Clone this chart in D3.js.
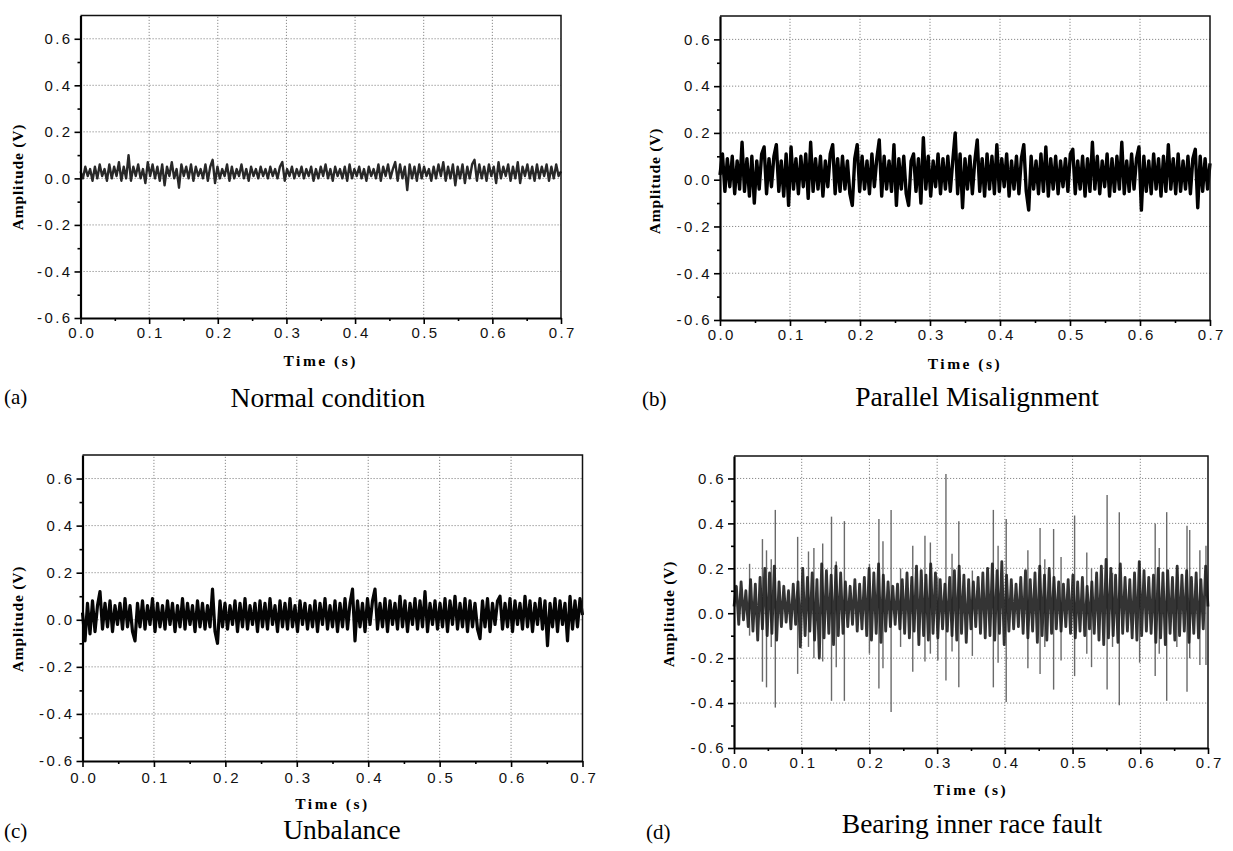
<!DOCTYPE html>
<html>
<head>
<meta charset="utf-8">
<script src="https://cdn.jsdelivr.net/npm/d3@7"></script>
<style>
  body { margin: 0; background: #fff; }
  svg { display: block; }
</style>
</head>
<body>
<svg id="chart" width="1233" height="851"></svg>
<script>
const DT = 0.0035;

const xTicks = [0, 0.1, 0.2, 0.3, 0.4, 0.5, 0.6, 0.7];
const xMinor = [0.05, 0.15, 0.25, 0.35, 0.45, 0.55, 0.65];
const yTicks = [-0.6, -0.4, -0.2, 0, 0.2, 0.4, 0.6];
const yMinor = [-0.5, -0.3, -0.1, 0.1, 0.3, 0.5];

const letters = ["(a)", "(b)", "(c)", "(d)"];
const titles = ["Normal condition", "Parallel Misalignment", "Unbalance", "Bearing inner race fault"];

// amplitudes (V), one every DT seconds
const normal = [
  0.03, 0.00, 0.05, 0.01, 0.04, -0.01, 0.05, 0.00, 0.06, 0.01,
  0.04, -0.01, 0.06, 0.00, 0.05, 0.01, 0.07, -0.01, 0.05, 0.00,
  0.10, -0.01, 0.05, 0.01, 0.06, 0.00, 0.04, -0.02, 0.07, 0.01,
  0.06, 0.00, 0.05, -0.01, 0.06, -0.03, 0.05, 0.01, 0.07, 0.00,
  0.04, -0.04, 0.06, 0.01, 0.05, 0.00, 0.06, -0.01, 0.05, 0.01,
  0.04, 0.00, 0.06, -0.01, 0.05, 0.08, -0.02, 0.05, 0.00, 0.04,
  0.01, 0.06, -0.01, 0.05, 0.00, 0.04, 0.01, 0.06, 0.00, 0.04,
  -0.01, 0.05, 0.01, 0.04, 0.00, 0.05, 0.01, 0.04, 0.00, 0.05,
  0.01, 0.04, 0.00, 0.05, 0.07, -0.01, 0.04, 0.01, 0.05, 0.00,
  0.04, 0.01, 0.05, 0.00, 0.04, 0.01, 0.05, -0.01, 0.04, 0.00,
  0.05, 0.01, 0.06, 0.00, 0.04, -0.01, 0.05, 0.01, 0.04, 0.00,
  0.05, -0.01, 0.06, 0.00, 0.04, 0.01, 0.05, 0.00, 0.04, -0.01,
  0.05, 0.01, 0.04, 0.00, 0.06, -0.01, 0.05, 0.01, 0.06, 0.00,
  0.04, 0.07, -0.01, 0.06, 0.00, 0.05, -0.05, 0.06, 0.00, 0.05,
  -0.01, 0.06, 0.00, 0.05, 0.01, 0.04, -0.01, 0.05, 0.00, 0.06,
  0.01, 0.07, -0.01, 0.05, 0.00, 0.06, -0.03, 0.05, 0.00, 0.06,
  -0.02, 0.05, 0.00, 0.06, 0.08, -0.01, 0.06, 0.00, 0.05, -0.01,
  0.06, 0.01, 0.05, -0.02, 0.07, 0.00, 0.05, 0.01, 0.06, -0.01,
  0.05, 0.00, 0.07, -0.02, 0.05, 0.01, 0.06, 0.00, 0.05, -0.01,
  0.06, 0.00, 0.05, 0.01, 0.06, -0.01, 0.05, 0.00, 0.06, 0.01, 0.03
];

const misalignment = [
  0.02, 0.11, -0.05, 0.09, -0.03, 0.10, -0.06, 0.08, -0.04, 0.16,
  -0.05, 0.09, -0.07, 0.10, -0.10, 0.08, -0.04, 0.11, 0.14, -0.06,
  0.09, -0.03, 0.10, 0.15, -0.05, 0.08, -0.07, 0.11, -0.11, 0.14,
  -0.04, 0.09, -0.06, 0.10, -0.03, 0.11, -0.08, 0.16, -0.05, 0.09,
  -0.04, 0.10, -0.07, 0.08, -0.03, 0.11, 0.15, -0.06, 0.09, -0.05,
  0.10, -0.04, 0.08, -0.06, -0.11, 0.09, 0.15, -0.05, 0.10, -0.04,
  0.08, -0.06, 0.11, -0.03, 0.09, 0.17, -0.07, 0.10, -0.04, 0.08,
  -0.05, 0.15, -0.11, 0.09, -0.04, 0.10, -0.06, -0.11, 0.08, 0.11,
  -0.05, 0.09, -0.10, 0.18, -0.04, 0.10, -0.07, 0.08, -0.03, 0.11,
  -0.06, 0.09, -0.04, 0.10, -0.05, 0.08, 0.20, -0.06, 0.11, -0.12,
  0.09, -0.04, 0.10, -0.06, 0.08, 0.17, -0.05, 0.09, -0.07, 0.11,
  -0.04, 0.10, -0.06, 0.15, -0.05, 0.09, -0.03, 0.11, -0.07, 0.08,
  -0.04, 0.10, -0.06, 0.09, 0.15, -0.05, -0.13, 0.10, -0.04, 0.08,
  -0.06, 0.11, -0.05, 0.14, -0.07, 0.09, -0.04, 0.10, -0.06, 0.08,
  -0.03, 0.09, -0.05, 0.11, 0.13, -0.06, 0.08, -0.04, 0.10, -0.07,
  0.09, -0.05, 0.16, -0.04, 0.10, -0.06, 0.08, -0.03, 0.11, -0.07,
  0.09, -0.05, 0.10, -0.04, 0.16, -0.06, 0.08, -0.05, 0.11, -0.04,
  0.09, 0.14, -0.13, 0.10, -0.05, 0.08, -0.06, 0.11, -0.04, 0.09,
  -0.07, 0.10, -0.05, 0.15, -0.04, 0.09, -0.06, 0.11, -0.05, 0.08,
  -0.04, 0.10, -0.06, 0.09, 0.13, -0.12, 0.10, -0.05, 0.09, -0.04, 0.07
];

const unbalance = [
  0.03, -0.09, 0.07, -0.06, 0.08, -0.05, 0.06, 0.12, -0.04, 0.07,
  -0.03, 0.08, -0.05, 0.06, -0.02, 0.07, -0.04, 0.09, -0.03, 0.06,
  -0.05, -0.09, 0.07, -0.03, 0.08, -0.04, 0.06, -0.02, 0.09, -0.05,
  0.07, -0.03, 0.06, -0.04, 0.08, -0.02, 0.07, -0.05, 0.06, -0.03,
  0.09, -0.04, 0.07, -0.02, 0.06, -0.05, 0.08, -0.03, 0.07, -0.04,
  0.06, -0.03, 0.13, -0.05, -0.10, 0.08, -0.03, 0.07, -0.04, 0.06,
  -0.02, 0.08, -0.05, 0.07, -0.03, 0.09, -0.04, 0.06, -0.02, 0.07,
  -0.05, 0.08, -0.03, 0.07, -0.04, 0.09, -0.02, 0.06, -0.05, 0.08,
  -0.03, 0.07, -0.04, 0.09, -0.03, 0.06, -0.05, 0.08, -0.02, 0.07,
  -0.04, 0.06, -0.03, 0.08, -0.05, 0.07, -0.02, 0.09, -0.04, 0.06,
  -0.03, 0.08, -0.05, 0.07, -0.03, 0.09, -0.04, 0.07, 0.13, -0.09,
  0.08, -0.03, 0.07, -0.05, 0.09, -0.02, 0.08, 0.13, -0.04, 0.07,
  -0.03, 0.09, -0.05, 0.08, -0.02, 0.07, -0.04, 0.10, -0.03, 0.08,
  -0.05, 0.07, -0.02, 0.09, -0.04, 0.08, -0.03, 0.12, -0.05, 0.07,
  -0.02, 0.08, -0.04, 0.07, -0.03, 0.09, -0.05, 0.08, -0.02, 0.10,
  -0.04, 0.07, -0.03, 0.09, -0.05, 0.08, -0.03, 0.07, -0.04, -0.08,
  0.08, -0.03, 0.09, -0.05, 0.07, -0.02, 0.08, 0.10, -0.04, 0.07,
  -0.03, 0.09, -0.05, 0.08, -0.02, 0.07, -0.04, 0.10, -0.03, 0.08,
  -0.05, 0.07, -0.02, 0.09, -0.04, 0.08, -0.11, 0.07, -0.03, 0.09,
  -0.05, 0.08, -0.02, 0.07, -0.09, 0.10, -0.04, 0.08, -0.03, 0.09, 0.02
];

const bearing = [
  0.03, 0.12, -0.05, 0.14, -0.03, 0.10, -0.06, 0.15, -0.08, 0.13,
  -0.12, 0.16, -0.07, 0.20, -0.10, 0.18, -0.09, 0.21, -0.12, 0.14,
  -0.06, 0.12, -0.04, 0.10, -0.07, 0.13, -0.05, 0.14, -0.15, 0.20,
  -0.10, 0.16, -0.08, 0.18, -0.12, 0.15, -0.20, 0.22, -0.11, 0.19,
  -0.09, 0.17, -0.14, 0.21, -0.10, 0.18, -0.09, 0.14, -0.06, 0.12,
  -0.05, 0.15, -0.08, 0.13, -0.07, 0.16, -0.10, 0.20, -0.12, 0.18,
  -0.09, 0.22, -0.13, 0.17, -0.08, 0.14, -0.06, 0.12, -0.05, 0.13,
  -0.07, 0.15, -0.09, 0.18, -0.11, 0.16, -0.08, 0.21, -0.14, 0.19,
  -0.10, 0.17, -0.12, 0.22, -0.09, 0.18, -0.11, 0.15, -0.07, 0.13,
  -0.08, 0.16, -0.10, 0.19, -0.12, 0.21, -0.09, 0.17, -0.13, 0.15,
  -0.07, 0.14, -0.06, 0.16, -0.09, 0.18, -0.11, 0.20, -0.10, 0.22,
  -0.12, 0.19, -0.09, 0.23, -0.14, 0.17, -0.08, 0.15, -0.07, 0.13,
  -0.06, 0.16, -0.09, 0.19, -0.11, 0.15, -0.08, 0.18, -0.13, 0.21,
  -0.10, 0.17, -0.12, 0.20, -0.09, 0.16, -0.07, 0.14, -0.08, 0.13,
  -0.06, 0.15, -0.09, 0.17, -0.11, 0.14, -0.08, 0.16, -0.10, 0.12,
  -0.07, 0.14, -0.09, 0.18, -0.12, 0.21, -0.14, 0.24, -0.11, 0.20,
  -0.10, 0.17, -0.13, 0.22, -0.09, 0.16, -0.08, 0.15, -0.11, 0.18,
  -0.12, 0.23, -0.10, 0.19, -0.08, 0.16, -0.09, 0.17, -0.13, 0.20,
  -0.11, 0.18, -0.14, 0.19, -0.09, 0.16, -0.12, 0.21, -0.10, 0.17,
  -0.08, 0.19, -0.13, 0.16, -0.09, 0.18, -0.11, 0.15, -0.07, 0.21, 0.03
];

// impulses of the inner race fault: [time, peak, trough]
const bearingSpikes = [
  [0.023, 0.22, -0.10], [0.042, 0.33, -0.305], [0.048, 0.28, -0.33], [0.055, 0.24, -0.15],
  [0.061, 0.46, -0.42], [0.094, 0.34, -0.27], [0.110, 0.275, -0.15], [0.118, 0.29, -0.20],
  [0.131, 0.31, -0.215], [0.144, 0.43, -0.39], [0.151, 0.23, -0.24], [0.163, 0.41, -0.39],
  [0.200, 0.22, -0.18], [0.214, 0.42, -0.335], [0.220, 0.32, -0.245], [0.232, 0.46, -0.44],
  [0.246, 0.20, -0.15], [0.264, 0.30, -0.26], [0.282, 0.345, -0.215], [0.290, 0.315, -0.18],
  [0.301, 0.16, -0.21], [0.313, 0.62, -0.30], [0.322, 0.265, -0.17], [0.332, 0.41, -0.33],
  [0.352, 0.19, -0.19], [0.383, 0.46, -0.33], [0.390, 0.30, -0.22], [0.402, 0.42, -0.395],
  [0.434, 0.28, -0.245], [0.452, 0.38, -0.27], [0.459, 0.24, -0.15], [0.472, 0.375, -0.34],
  [0.483, 0.25, -0.21], [0.503, 0.435, -0.28], [0.521, 0.27, -0.18], [0.528, 0.20, -0.24],
  [0.551, 0.526, -0.34], [0.559, 0.18, -0.15], [0.569, 0.45, -0.41], [0.599, 0.23, -0.22],
  [0.622, 0.40, -0.28], [0.628, 0.29, -0.18], [0.639, 0.45, -0.39], [0.654, 0.20, -0.15],
  [0.669, 0.39, -0.35], [0.673, 0.37, -0.20], [0.688, 0.28, -0.23], [0.697, 0.30, -0.23]
];

const panels = [
  { values: normal, x0: 80.5, x1: 561, yb: 318, yt: 15.5, stroke: "#1c1c1c", sw: 2.4, op: 0.95,
    ampX: 18, ampY: 177, timeY: 366, tickY: 338, letterX: 4, letterY: 404, titleX: 328, titleY: 407 },
  { values: misalignment, x0: 720, x1: 1210, yb: 320, yt: 16, stroke: "#000", sw: 3.4, op: 1,
    ampX: 655, ampY: 181, timeY: 369, tickY: 340, letterX: 642, letterY: 406, titleX: 977, titleY: 406 },
  { values: unbalance, x0: 82.5, x1: 582.5, yb: 761, yt: 455, stroke: "#050505", sw: 3.2, op: 1,
    ampX: 18, ampY: 619, timeY: 809, tickY: 783, letterX: 4, letterY: 838, titleX: 342, titleY: 839 },
  { values: bearing, spikes: bearingSpikes, x0: 734, x1: 1208, yb: 748, yt: 456, stroke: "#1e1e1e", sw: 2.8, op: 0.9,
    ampX: 669, ampY: 614, timeY: 795, tickY: 768, letterX: 646, letterY: 839, titleX: 972, titleY: 833 }
];

const svg = d3.select("#chart");
const fmt = d => d.toFixed(1);

panels.forEach((p, k) => {
  const x = d3.scaleLinear().domain([0, 0.7]).range([p.x0, p.x1]);
  const y = d3.scaleLinear().domain([-0.6, 0.7]).range([p.yb, p.yt]);
  const g = svg.append("g");

  // dotted grid
  g.append("g").selectAll("line").data(xTicks.slice(1, -1)).join("line")
    .attr("x1", d => x(d)).attr("x2", d => x(d))
    .attr("y1", y(-0.6)).attr("y2", y(0.7))
    .attr("stroke", "#8a8a8a").attr("stroke-width", 1).attr("stroke-dasharray", "1.2,1.8");
  g.append("g").selectAll("line").data(yTicks.slice(1)).join("line")
    .attr("x1", x(0)).attr("x2", x(0.7))
    .attr("y1", d => y(d)).attr("y2", d => y(d))
    .attr("stroke", "#8a8a8a").attr("stroke-width", 1).attr("stroke-dasharray", "1.2,1.8");

  // fault impulses
  if (p.spikes) {
    g.append("g").selectAll("line").data(p.spikes).join("line")
      .attr("x1", d => x(d[0])).attr("x2", d => x(d[0]))
      .attr("y1", d => y(d[1])).attr("y2", d => y(d[2]))
      .attr("stroke", "#6a6a6a").attr("stroke-width", 1.4);
  }

  // signal trace
  const line = d3.line().x((d, i) => x(i * DT)).y(d => y(d));
  g.append("path").datum(p.values)
    .attr("d", line)
    .attr("fill", "none")
    .attr("stroke", p.stroke)
    .attr("stroke-opacity", p.op)
    .attr("stroke-width", p.sw)
    .attr("stroke-linejoin", "round");

  // frame: thin top and right
  g.append("path")
    .attr("d", `M${x(0)},${y(0.7)}H${x(0.7)}V${y(-0.6)}`)
    .attr("fill", "none").attr("stroke", "#111").attr("stroke-width", 1.5);

  // axes
  const xAxis = g.append("g").attr("transform", `translate(0,${y(-0.6)})`)
    .call(d3.axisBottom(x).tickValues(xTicks).tickSize(6).tickSizeOuter(0).tickFormat(fmt));
  g.append("g").attr("transform", `translate(0,${y(-0.6)})`)
    .call(d3.axisBottom(x).tickValues(xMinor).tickSize(3).tickFormat(""))
    .call(a => a.select(".domain").remove());
  const yAxis = g.append("g").attr("transform", `translate(${x(0)},0)`)
    .call(d3.axisLeft(y).tickValues(yTicks).tickSize(6).tickSizeOuter(0).tickFormat(fmt));
  g.append("g").attr("transform", `translate(${x(0)},0)`)
    .call(d3.axisLeft(y).tickValues(yMinor).tickSize(3).tickFormat(""))
    .call(a => a.select(".domain").remove());

  g.selectAll(".domain").attr("stroke", "#000").attr("stroke-width", 2.2);
  g.selectAll(".tick line").attr("stroke", "#000").attr("stroke-width", 1.6);
  g.selectAll(".tick text")
    .attr("font-family", "Liberation Sans, Arial, sans-serif")
    .attr("font-size", 15).attr("fill", "#111")
    .style("letter-spacing", "2.4px");
  xAxis.selectAll(".tick text").attr("dy", null)
    .attr("y", p.tickY - y(-0.6)).attr("dx", 1.2);
  yAxis.selectAll(".tick text").attr("x", -8);

  // axis titles
  g.append("text")
    .attr("transform", `translate(${p.ampX + 5},${p.ampY}) rotate(-90)`)
    .attr("text-anchor", "middle")
    .attr("font-family", "Liberation Serif, Times New Roman, serif")
    .attr("font-weight", "bold").attr("font-size", 15.5)
    .style("letter-spacing", "0.8px")
    .text("Amplitude (V)");
  g.append("text")
    .attr("x", (p.x0 + p.x1) / 2).attr("y", p.timeY)
    .attr("text-anchor", "middle")
    .attr("font-family", "Liberation Serif, Times New Roman, serif")
    .attr("font-weight", "bold").attr("font-size", 15.5)
    .style("letter-spacing", "2.5px")
    .text("Time (s)");

  // panel letter and caption
  g.append("text")
    .attr("x", p.letterX).attr("y", p.letterY)
    .attr("font-family", "Liberation Serif, Times New Roman, serif")
    .attr("font-size", 21)
    .text(letters[k]);
  g.append("text")
    .attr("x", p.titleX).attr("y", p.titleY)
    .attr("text-anchor", "middle")
    .attr("font-family", "Liberation Serif, Times New Roman, serif")
    .attr("font-size", 27.5)
    .text(titles[k]);
});
</script>
</body>
</html>
